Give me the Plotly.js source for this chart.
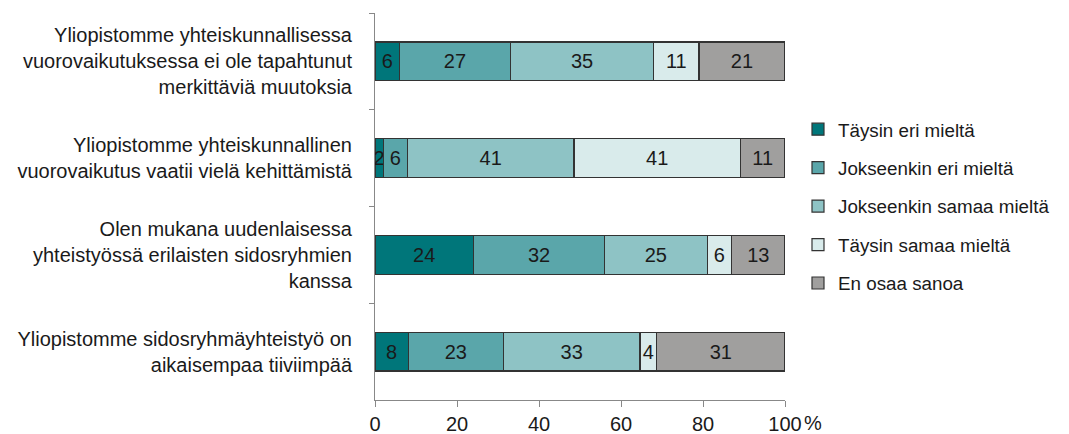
<!DOCTYPE html>
<html>
<head>
<meta charset="utf-8">
<script src="https://cdn.plot.ly/plotly-3.0.1.min.js"></script>
<style>html,body{margin:0;padding:0;background:#fff;}#chart{width:1069px;height:434px;}</style>
</head>
<body>
<div id="chart"></div>
<script>
const categories = [
  "Yliopistomme yhteiskunnallisessa<br>vuorovaikutuksessa ei ole tapahtunut<br>merkittäviä muutoksia",
  "Yliopistomme yhteiskunnallinen<br>vuorovaikutus vaatii vielä kehittämistä",
  "Olen mukana uudenlaisessa<br>yhteistyössä erilaisten sidosryhmien<br>kanssa",
  "Yliopistomme sidosryhmäyhteistyö on<br>aikaisempaa tiiviimpää"
];
const seriesNames = ["Täysin eri mieltä", "Jokseenkin eri mieltä", "Jokseenkin samaa mieltä", "Täysin samaa mieltä", "En osaa sanoa"];
const taysinEri = [6, 2, 24, 8];
const jokseenkinEri = [27, 6, 32, 23];
const jokseenkinSamaa = [35, 41, 25, 33];
const taysinSamaa = [11, 41, 6, 4];
const enOsaa = [21, 11, 13, 31];
const xTicks = [0, 20, 40, 60, 80, 100];

const colors = ["#00767a", "#5aa6aa", "#8ec3c5", "#d9ebeb", "#a09f9e"];
const allSeries = [taysinEri, jokseenkinEri, jokseenkinSamaa, taysinSamaa, enOsaa];
const FONT = "Liberation Sans, Arial, sans-serif";

const traces = allSeries.map((vals, i) => ({
  type: "bar",
  orientation: "h",
  name: seriesNames[i],
  y: categories,
  x: vals,
  text: vals.map(String),
  textposition: "inside",
  insidetextanchor: "middle",
  constraintext: "none",
  textfont: {family: FONT, size: 20, color: "#1a1a1a"},
  marker: {color: colors[i], line: {color: "#333333", width: 1.2}},
  legendgroup: "g" + i,
  hoverinfo: "skip"
}));

const layout = {
  width: 1069,
  height: 434,
  margin: {l: 375, r: 284, t: 13, b: 34},
  barmode: "stack",
  barnorm: "percent",
  bargap: 0.6,
  paper_bgcolor: "#ffffff",
  plot_bgcolor: "#ffffff",
  font: {family: FONT, size: 20, color: "#1a1a1a"},
  showlegend: true,
  legend: {
    x: 1.0317, xanchor: "left",
    y: 0.5, yanchor: "middle",
    traceorder: "grouped",
    tracegroupgap: 11,
    font: {family: FONT, size: 18.8, color: "#1a1a1a"},
    itemwidth: 30
  },
  xaxis: {
    range: [0, 100],
    tickvals: xTicks,
    ticktext: xTicks.map(String),
    showgrid: false,
    zeroline: false,
    showline: true,
    linecolor: "#888888",
    linewidth: 1,
    ticks: "outside",
    ticklen: 6,
    tickcolor: "#888888",
    tickfont: {family: FONT, size: 20, color: "#1a1a1a"}
  },
  yaxis: {
    type: "category",
    autorange: "reversed",
    showgrid: false,
    zeroline: false,
    showline: true,
    linecolor: "#888888",
    linewidth: 1,
    ticks: "outside",
    tickson: "boundaries",
    ticklen: 5,
    tickcolor: "#888888",
    ticklabelstandoff: 18,
    tickfont: {family: FONT, size: 20, color: "#1a1a1a"}
  },
  annotations: [{
    text: "%",
    xref: "paper", yref: "paper",
    x: 1.068, y: -0.06,
    xanchor: "center", yanchor: "middle",
    showarrow: false,
    font: {family: FONT, size: 20, color: "#1a1a1a"}
  }]
};

Plotly.newPlot("chart", traces, layout, {displayModeBar: false, staticPlot: true});
</script>
</body>
</html>
